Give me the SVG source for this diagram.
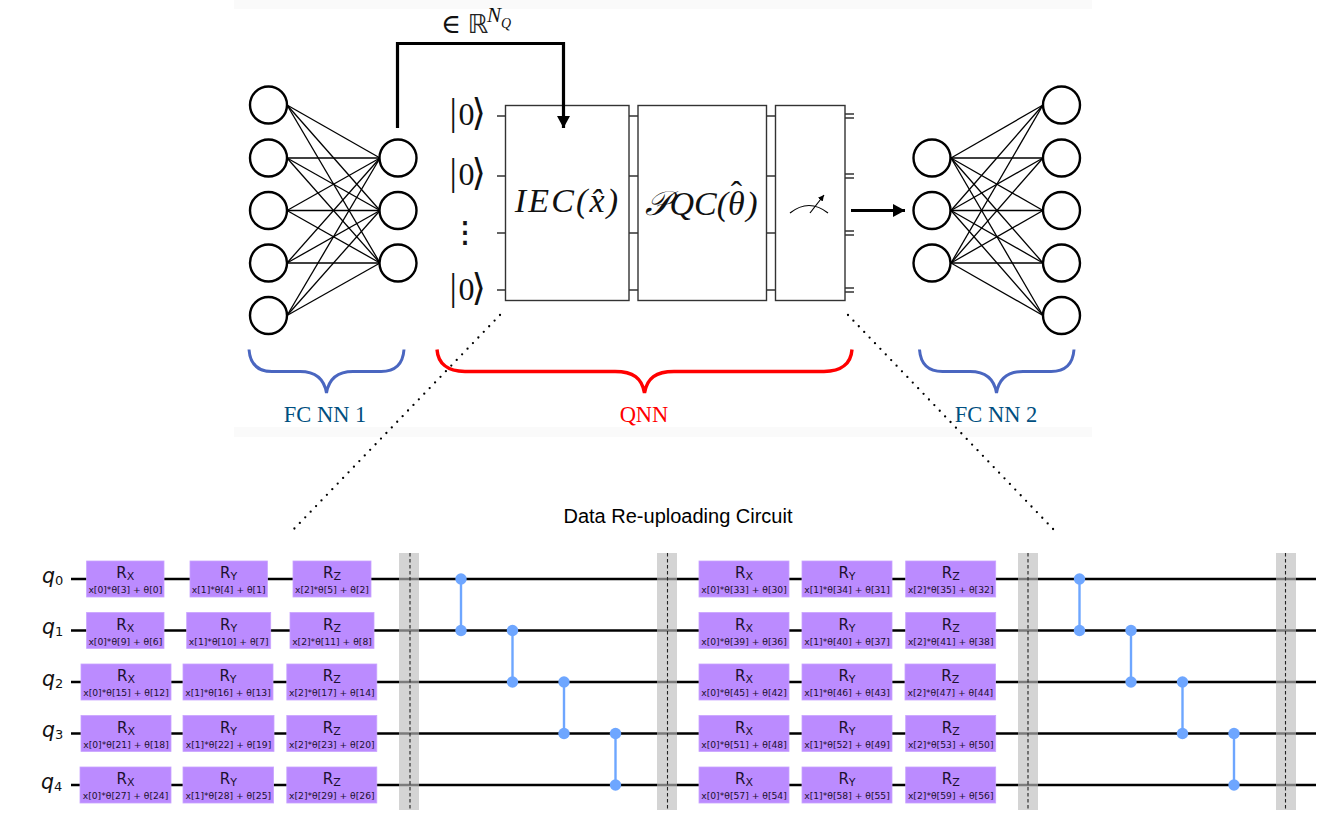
<svg xmlns="http://www.w3.org/2000/svg" width="1328" height="825" viewBox="0 0 1328 825">
<defs>
<marker id="bigHead" markerUnits="userSpaceOnUse" markerWidth="14" markerHeight="14" refX="12" refY="7" orient="auto"><path d="M0 0.5L12 7L0 13.500Z" fill="#000"/></marker>
<marker id="tinyHead" markerUnits="userSpaceOnUse" markerWidth="7" markerHeight="7" refX="6" refY="3" orient="auto"><path d="M0 0L6 3L0 6Z" fill="#000"/></marker>
</defs>
<style>
.bg{fill:#fff}
.strip{fill:#fafafa}
.nn{fill:#fff;stroke:#000;stroke-width:2.4}
.edge{stroke:#000;stroke-width:1.3;fill:none}
.thick{stroke:#000;stroke-width:3.2;fill:none}
.blk{fill:#fff;stroke:#333;stroke-width:1.4}
.stub{stroke:#333;stroke-width:1.3;fill:none}
.dots{stroke:#000;stroke-width:2.3;stroke-linecap:round;stroke-dasharray:0 7.8;fill:none}
.brB{stroke:#4a66c0;stroke-width:3;fill:none}
.brR{stroke:#f00;stroke-width:3.4;fill:none}
.math{font-family:"Liberation Serif","DejaVu Serif",serif;font-style:italic;font-size:34px;fill:#111;text-anchor:middle}
.ket{font-family:"Liberation Serif","DejaVu Serif",serif;font-size:32px;fill:#111}
.kb{font-size:37px}
.lbl{font-family:"Liberation Serif",serif;font-size:22.5px;text-anchor:middle}
.wire{stroke:#000;stroke-width:2.4}
.bar{fill:#bdbdbd;fill-opacity:.65}
.dash{stroke:#222;stroke-width:1.1;stroke-dasharray:3.6 2.4}
.cz{stroke:#6ea6ff;stroke-width:2.4}
.czd{fill:#6ea6ff}
.gate rect{fill:#bb8bff;stroke:#c9a4ff;stroke-width:.8}
.gate text{font-family:"DejaVu Sans",sans-serif;fill:#1c1030;text-anchor:middle}
.r{font-size:15px}
.s{font-size:11px}
.p{font-size:9.2px}
.q{font-family:"DejaVu Sans",sans-serif;font-size:20.5px;font-style:italic;fill:#111}
.qs{font-size:13px;font-style:normal}
</style>
<rect class="bg" width="1328" height="825"/>
<rect class="strip" x="234" y="0" width="858" height="9"/>
<rect class="strip" x="234" y="427" width="858" height="10"/>

<g id="connectors">
<line class="edge" x1="287" y1="105" x2="380" y2="158"/><line class="edge" x1="287" y1="105" x2="380" y2="210.5"/><line class="edge" x1="287" y1="105" x2="380" y2="263"/>
<line class="edge" x1="287" y1="158" x2="380" y2="158"/><line class="edge" x1="287" y1="158" x2="380" y2="210.5"/><line class="edge" x1="287" y1="158" x2="380" y2="263"/>
<line class="edge" x1="287" y1="210.5" x2="380" y2="158"/><line class="edge" x1="287" y1="210.5" x2="380" y2="210.5"/><line class="edge" x1="287" y1="210.5" x2="380" y2="263"/>
<line class="edge" x1="287" y1="263" x2="380" y2="158"/><line class="edge" x1="287" y1="263" x2="380" y2="210.5"/><line class="edge" x1="287" y1="263" x2="380" y2="263"/>
<line class="edge" x1="287" y1="315.5" x2="380" y2="158"/><line class="edge" x1="287" y1="315.5" x2="380" y2="210.5"/><line class="edge" x1="287" y1="315.5" x2="380" y2="263"/>
<line class="edge" x1="951" y1="158" x2="1043" y2="105"/><line class="edge" x1="951" y1="158" x2="1043" y2="158"/><line class="edge" x1="951" y1="158" x2="1043" y2="210.5"/><line class="edge" x1="951" y1="158" x2="1043" y2="263"/><line class="edge" x1="951" y1="158" x2="1043" y2="315.5"/>
<line class="edge" x1="951" y1="210.5" x2="1043" y2="105"/><line class="edge" x1="951" y1="210.5" x2="1043" y2="158"/><line class="edge" x1="951" y1="210.5" x2="1043" y2="210.5"/><line class="edge" x1="951" y1="210.5" x2="1043" y2="263"/><line class="edge" x1="951" y1="210.5" x2="1043" y2="315.5"/>
<line class="edge" x1="951" y1="263" x2="1043" y2="105"/><line class="edge" x1="951" y1="263" x2="1043" y2="158"/><line class="edge" x1="951" y1="263" x2="1043" y2="210.5"/><line class="edge" x1="951" y1="263" x2="1043" y2="263"/><line class="edge" x1="951" y1="263" x2="1043" y2="315.5"/>
<path class="stub" d="M497 116H505M497 176H505M497 233H505M497 290H505M629 116H638M629 176H638M629 233H638M629 290H638M767 116H775M767 176H775M767 233H775M767 290H775M845 114H854M845 118H854M845 174H854M845 178H854M845 231H854M845 235H854M845 288H854M845 292H854"/>
<path class="dots" d="M500 315L293 530"/>
<path class="dots" d="M848 315L1054 530"/>
<path class="thick" d="M851 210.500H905" marker-end="url(#bigHead)"/>
</g>

<g id="nn1">
<circle class="nn" cx="268.500" cy="105" r="18.500"/><circle class="nn" cx="268.500" cy="158" r="18.500"/><circle class="nn" cx="268.500" cy="210.500" r="18.500"/><circle class="nn" cx="268.500" cy="263" r="18.500"/><circle class="nn" cx="268.500" cy="315.500" r="18.500"/>
<circle class="nn" cx="398" cy="158" r="18.500"/><circle class="nn" cx="398" cy="210.500" r="18.500"/><circle class="nn" cx="398" cy="263" r="18.500"/>
</g>
<g id="nn2">
<circle class="nn" cx="932" cy="158" r="18.500"/><circle class="nn" cx="932" cy="210.500" r="18.500"/><circle class="nn" cx="932" cy="263" r="18.500"/>
<circle class="nn" cx="1061.500" cy="105" r="18.500"/><circle class="nn" cx="1061.500" cy="158" r="18.500"/><circle class="nn" cx="1061.500" cy="210.500" r="18.500"/><circle class="nn" cx="1061.500" cy="263" r="18.500"/><circle class="nn" cx="1061.500" cy="315.500" r="18.500"/>
</g>

<g id="kets">
<text class="ket" y="125"><tspan class="kb" x="449.500">|</tspan><tspan x="458.500">0</tspan><tspan class="kb" x="471.500">⟩</tspan></text>
<text class="ket" y="185"><tspan class="kb" x="449.500">|</tspan><tspan x="458.500">0</tspan><tspan class="kb" x="471.500">⟩</tspan></text>
<text x="465" y="242" font-family="DejaVu Sans,sans-serif" font-size="29" stroke="#111" stroke-width=".6" text-anchor="middle" fill="#111">⋮</text>
<text class="ket" y="300"><tspan class="kb" x="449.500">|</tspan><tspan x="458.500">0</tspan><tspan class="kb" x="471.500">⟩</tspan></text>
</g>
<g id="iec"><rect class="blk" x="505.500" y="105.500" width="123.500" height="195"/><text class="math" x="567.500" y="212" letter-spacing="2.200">IEC(x̂)</text></g>
<g id="pqc"><rect class="blk" x="638" y="105.500" width="128.500" height="195"/><text class="math" x="701" y="215">𝒫QC(θ<tspan dx="-14" dy="-10" font-style="normal">ˆ</tspan><tspan dx="4" dy="10">)</tspan></text></g>
<g id="measure"><rect class="blk" x="775.500" y="105.500" width="69.500" height="195"/>
<path d="M790 213Q809 198 828 213" fill="none" stroke="#000" stroke-width="1.2"/><path d="M810 213L824 195" fill="none" stroke="#000" stroke-width="1.2" marker-end="url(#tinyHead)"/></g>
<g id="feed">
<path class="thick" d="M397.500 128V43.500H563.500V128" marker-end="url(#bigHead)"/>
<text x="441" y="33" font-family="DejaVu Serif,serif" font-size="27" fill="#111">∈</text>
<text x="467.500" y="33" font-family="DejaVu Sans,sans-serif" font-size="26" fill="#222">ℝ</text>
<text x="487" y="22" font-family="Liberation Serif,serif" font-style="italic" font-size="21" fill="#111">N</text>
<text x="501" y="28" font-family="Liberation Serif,serif" font-style="italic" font-size="14" fill="#111">Q</text>
</g>

<g id="fcnn1-label"><path class="brB" d="M249 349.500C250 363 257 371.500 272 371.500H300C315 371.500 324 378 326.500 393C329 378 338 371.500 353 371.500H381C396 371.500 403 363 404 349.500"/><text class="lbl" x="325" y="422" fill="#004f80">FC NN 1</text></g>
<g id="qnn-label"><path class="brR" d="M437 349.500C438 363 447 371.500 465 371.500H615C633 371.500 642 378 644.500 393C647 378 656 371.500 674 371.500H824C842 371.500 851 363 852 349.500"/><text class="lbl" x="644" y="422" fill="#f00">QNN</text></g>
<g id="fcnn2-label"><path class="brB" d="M919.500 349.500C920.500 363 927.500 371.500 942.500 371.500H970C985 371.500 994 378 996.500 393C999 378 1008 371.500 1023 371.500H1051C1066 371.500 1073 363 1074 349.500"/><text class="lbl" x="996" y="422" fill="#004f80">FC NN 2</text></g>

<text id="title" x="678" y="523" font-family="Liberation Sans,sans-serif" font-size="20" text-anchor="middle" fill="#000">Data Re-uploading Circuit</text>

<g id="wires">
<line class="wire" x1="71" y1="579" x2="1316" y2="579"/><line class="wire" x1="71" y1="630.500" x2="1316" y2="630.500"/><line class="wire" x1="71" y1="682" x2="1316" y2="682"/><line class="wire" x1="71" y1="733.500" x2="1316" y2="733.500"/><line class="wire" x1="71" y1="785" x2="1316" y2="785"/>
</g>
<g id="qubits">
<text class="q" x="42" y="582.500">q<tspan class="qs" dy="2">0</tspan></text>
<text class="q" x="42" y="634">q<tspan class="qs" dy="2">1</tspan></text>
<text class="q" x="42" y="685.500">q<tspan class="qs" dy="2">2</tspan></text>
<text class="q" x="42" y="737">q<tspan class="qs" dy="2">3</tspan></text>
<text class="q" x="41" y="788.500">q<tspan class="qs" dy="2">4</tspan></text>
</g>
<g id="barriers">
<rect class="bar" x="399" y="553" width="20" height="257"/><line class="dash" x1="410" y1="553" x2="410" y2="810"/>
<rect class="bar" x="657" y="553" width="20" height="257"/><line class="dash" x1="667.500" y1="553" x2="667.500" y2="810"/>
<rect class="bar" x="1018" y="553" width="20" height="257"/><line class="dash" x1="1028" y1="553" x2="1028" y2="810"/>
<rect class="bar" x="1276" y="553" width="20" height="257"/><line class="dash" x1="1285.500" y1="553" x2="1285.500" y2="810"/>
</g>
<g id="cz-gates">
<line class="cz" x1="461" y1="579" x2="461" y2="630.500"/><circle class="czd" cx="461" cy="579" r="5.700"/><circle class="czd" cx="461" cy="630.500" r="5.700"/>
<line class="cz" x1="512.500" y1="630.500" x2="512.500" y2="682"/><circle class="czd" cx="512.500" cy="630.500" r="5.700"/><circle class="czd" cx="512.500" cy="682" r="5.700"/>
<line class="cz" x1="564" y1="682" x2="564" y2="733.500"/><circle class="czd" cx="564" cy="682" r="5.700"/><circle class="czd" cx="564" cy="733.500" r="5.700"/>
<line class="cz" x1="615.500" y1="733.500" x2="615.500" y2="785"/><circle class="czd" cx="615.500" cy="733.500" r="5.700"/><circle class="czd" cx="615.500" cy="785" r="5.700"/>
<line class="cz" x1="1079.500" y1="579" x2="1079.500" y2="630.500"/><circle class="czd" cx="1079.500" cy="579" r="5.700"/><circle class="czd" cx="1079.500" cy="630.500" r="5.700"/>
<line class="cz" x1="1131" y1="630.500" x2="1131" y2="682"/><circle class="czd" cx="1131" cy="630.500" r="5.700"/><circle class="czd" cx="1131" cy="682" r="5.700"/>
<line class="cz" x1="1182.500" y1="682" x2="1182.500" y2="733.500"/><circle class="czd" cx="1182.500" cy="682" r="5.700"/><circle class="czd" cx="1182.500" cy="733.500" r="5.700"/>
<line class="cz" x1="1234" y1="733.500" x2="1234" y2="785"/><circle class="czd" cx="1234" cy="733.500" r="5.700"/><circle class="czd" cx="1234" cy="785" r="5.700"/>
</g>

<g id="q0rx" class="gate" transform="translate(125.300,579)"><rect x="-38.700" y="-18" width="77.400" height="36"/><text class="r" y="-1">R<tspan class="s" dy="2">X</tspan></text><text class="p" y="14">x[0]*θ[3] + θ[0]</text></g>
<g id="q0ry" class="gate" transform="translate(228.700,579)"><rect x="-38.700" y="-18" width="77.400" height="36"/><text class="r" y="-1">R<tspan class="s" dy="2">Y</tspan></text><text class="p" y="14">x[1]*θ[4] + θ[1]</text></g>
<g id="q0rz" class="gate" transform="translate(332,579)"><rect x="-39" y="-18" width="78" height="36"/><text class="r" y="-1">R<tspan class="s" dy="2">Z</tspan></text><text class="p" y="14">x[2]*θ[5] + θ[2]</text></g>
<g id="q1rx" class="gate" transform="translate(125.300,630.500)"><rect x="-38.700" y="-18" width="77.400" height="36"/><text class="r" y="-1">R<tspan class="s" dy="2">X</tspan></text><text class="p" y="14">x[0]*θ[9] + θ[6]</text></g>
<g id="q1ry" class="gate" transform="translate(228.700,630.500)"><rect x="-42" y="-18" width="84" height="36"/><text class="r" y="-1">R<tspan class="s" dy="2">Y</tspan></text><text class="p" y="14">x[1]*θ[10] + θ[7]</text></g>
<g id="q1rz" class="gate" transform="translate(332,630.500)"><rect x="-42" y="-18" width="84" height="36"/><text class="r" y="-1">R<tspan class="s" dy="2">Z</tspan></text><text class="p" y="14">x[2]*θ[11] + θ[8]</text></g>
<g id="q2rx" class="gate" transform="translate(126,682)"><rect x="-45" y="-18" width="90" height="36"/><text class="r" y="-1">R<tspan class="s" dy="2">X</tspan></text><text class="p" y="14">x[0]*θ[15] + θ[12]</text></g>
<g id="q2ry" class="gate" transform="translate(228,682)"><rect x="-45" y="-18" width="90" height="36"/><text class="r" y="-1">R<tspan class="s" dy="2">Y</tspan></text><text class="p" y="14">x[1]*θ[16] + θ[13]</text></g>
<g id="q2rz" class="gate" transform="translate(331.800,682)"><rect x="-45" y="-18" width="90" height="36"/><text class="r" y="-1">R<tspan class="s" dy="2">Z</tspan></text><text class="p" y="14">x[2]*θ[17] + θ[14]</text></g>
<g id="q3rx" class="gate" transform="translate(126,733.500)"><rect x="-45" y="-18" width="90" height="36"/><text class="r" y="-1">R<tspan class="s" dy="2">X</tspan></text><text class="p" y="14">x[0]*θ[21] + θ[18]</text></g>
<g id="q3ry" class="gate" transform="translate(228.500,733.500)"><rect x="-45.500" y="-18" width="91" height="36"/><text class="r" y="-1">R<tspan class="s" dy="2">Y</tspan></text><text class="p" y="14">x[1]*θ[22] + θ[19]</text></g>
<g id="q3rz" class="gate" transform="translate(331.800,733.500)"><rect x="-45" y="-18" width="90" height="36"/><text class="r" y="-1">R<tspan class="s" dy="2">Z</tspan></text><text class="p" y="14">x[2]*θ[23] + θ[20]</text></g>
<g id="q4rx" class="gate" transform="translate(125.500,785)"><rect x="-45.500" y="-18" width="91" height="36"/><text class="r" y="-1">R<tspan class="s" dy="2">X</tspan></text><text class="p" y="14">x[0]*θ[27] + θ[24]</text></g>
<g id="q4ry" class="gate" transform="translate(228.300,785)"><rect x="-45.300" y="-18" width="90.600" height="36"/><text class="r" y="-1">R<tspan class="s" dy="2">Y</tspan></text><text class="p" y="14">x[1]*θ[28] + θ[25]</text></g>
<g id="q4rz" class="gate" transform="translate(331.800,785)"><rect x="-45" y="-18" width="90" height="36"/><text class="r" y="-1">R<tspan class="s" dy="2">Z</tspan></text><text class="p" y="14">x[2]*θ[29] + θ[26]</text></g>

<g id="q0rx2" class="gate" transform="translate(744,579)"><rect x="-45" y="-18" width="90" height="36"/><text class="r" y="-1">R<tspan class="s" dy="2">X</tspan></text><text class="p" y="14">x[0]*θ[33] + θ[30]</text></g>
<g id="q0ry2" class="gate" transform="translate(847,579)"><rect x="-45" y="-18" width="90" height="36"/><text class="r" y="-1">R<tspan class="s" dy="2">Y</tspan></text><text class="p" y="14">x[1]*θ[34] + θ[31]</text></g>
<g id="q0rz2" class="gate" transform="translate(950.700,579)"><rect x="-45" y="-18" width="90" height="36"/><text class="r" y="-1">R<tspan class="s" dy="2">Z</tspan></text><text class="p" y="14">x[2]*θ[35] + θ[32]</text></g>
<g id="q1rx2" class="gate" transform="translate(744,630.500)"><rect x="-45" y="-18" width="90" height="36"/><text class="r" y="-1">R<tspan class="s" dy="2">X</tspan></text><text class="p" y="14">x[0]*θ[39] + θ[36]</text></g>
<g id="q1ry2" class="gate" transform="translate(847,630.500)"><rect x="-45" y="-18" width="90" height="36"/><text class="r" y="-1">R<tspan class="s" dy="2">Y</tspan></text><text class="p" y="14">x[1]*θ[40] + θ[37]</text></g>
<g id="q1rz2" class="gate" transform="translate(950.700,630.500)"><rect x="-45" y="-18" width="90" height="36"/><text class="r" y="-1">R<tspan class="s" dy="2">Z</tspan></text><text class="p" y="14">x[2]*θ[41] + θ[38]</text></g>
<g id="q2rx2" class="gate" transform="translate(744,682)"><rect x="-45" y="-18" width="90" height="36"/><text class="r" y="-1">R<tspan class="s" dy="2">X</tspan></text><text class="p" y="14">x[0]*θ[45] + θ[42]</text></g>
<g id="q2ry2" class="gate" transform="translate(847,682)"><rect x="-45" y="-18" width="90" height="36"/><text class="r" y="-1">R<tspan class="s" dy="2">Y</tspan></text><text class="p" y="14">x[1]*θ[46] + θ[43]</text></g>
<g id="q2rz2" class="gate" transform="translate(950.300,682)"><rect x="-45.300" y="-18" width="90.600" height="36"/><text class="r" y="-1">R<tspan class="s" dy="2">Z</tspan></text><text class="p" y="14">x[2]*θ[47] + θ[44]</text></g>
<g id="q3rx2" class="gate" transform="translate(744,733.500)"><rect x="-45" y="-18" width="90" height="36"/><text class="r" y="-1">R<tspan class="s" dy="2">X</tspan></text><text class="p" y="14">x[0]*θ[51] + θ[48]</text></g>
<g id="q3ry2" class="gate" transform="translate(847,733.500)"><rect x="-45" y="-18" width="90" height="36"/><text class="r" y="-1">R<tspan class="s" dy="2">Y</tspan></text><text class="p" y="14">x[1]*θ[52] + θ[49]</text></g>
<g id="q3rz2" class="gate" transform="translate(950.700,733.500)"><rect x="-45" y="-18" width="90" height="36"/><text class="r" y="-1">R<tspan class="s" dy="2">Z</tspan></text><text class="p" y="14">x[2]*θ[53] + θ[50]</text></g>
<g id="q4rx2" class="gate" transform="translate(744,785)"><rect x="-45" y="-18" width="90" height="36"/><text class="r" y="-1">R<tspan class="s" dy="2">X</tspan></text><text class="p" y="14">x[0]*θ[57] + θ[54]</text></g>
<g id="q4ry2" class="gate" transform="translate(847,785)"><rect x="-45" y="-18" width="90" height="36"/><text class="r" y="-1">R<tspan class="s" dy="2">Y</tspan></text><text class="p" y="14">x[1]*θ[58] + θ[55]</text></g>
<g id="q4rz2" class="gate" transform="translate(950.700,785)"><rect x="-45" y="-18" width="90" height="36"/><text class="r" y="-1">R<tspan class="s" dy="2">Z</tspan></text><text class="p" y="14">x[2]*θ[59] + θ[56]</text></g>
</svg>
